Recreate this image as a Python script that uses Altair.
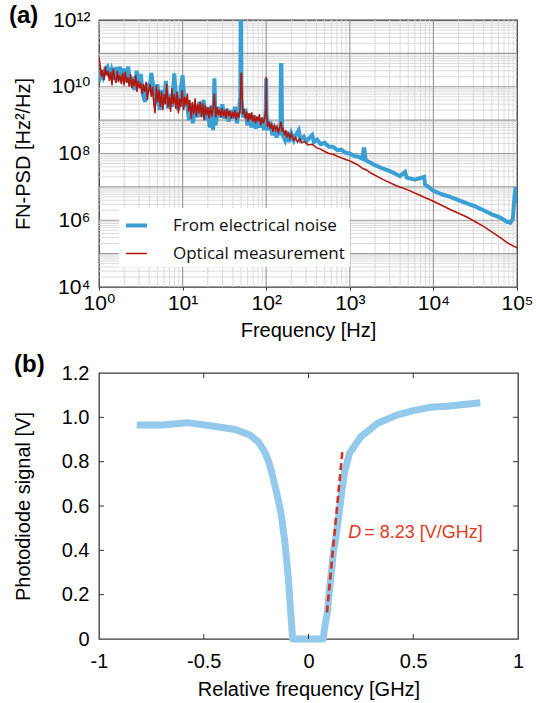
import altair as alt
import pandas as pd

# ---------------- Panel (a) data ----------------
series_names = ["From electrical noise", "Optical measurement"]

freq_elec = [1.00, 1.06, 1.12, 1.19, 1.26, 1.33, 1.41, 1.50, 1.58, 1.68,
             1.78, 1.88, 2.00, 2.11, 2.24, 2.37, 2.51, 2.66, 2.82, 2.99,
             3.16, 3.35, 3.55, 3.76, 3.98, 4.22, 4.47, 4.73, 5.01, 5.31,
             5.62, 5.96, 6.31, 6.68, 7.08, 7.50, 7.94, 8.41, 8.91, 9.44,
             10.0, 10.6, 11.2, 11.9, 12.6, 13.3, 14.1, 15.0, 15.8, 16.8,
             17.8, 18.8, 20.0, 21.1, 22.4, 23.2, 24.0, 24.8, 26.6, 28.2,
             29.9, 31.6, 33.5, 35.5, 37.6, 39.8, 42.2, 44.7, 47.3, 49.0,
             49.5, 50.1, 50.7, 53.1, 56.2, 59.6, 63.1, 66.8, 70.8, 75.0,
             79.4, 84.1, 89.1, 94.4, 98.9, 100, 101, 106, 112, 119,
             126, 133, 141, 148, 150, 152, 155, 168, 178, 188,
             200, 214, 229, 245, 257, 282, 302, 331, 355, 372,
             407, 447, 501, 562, 631, 708, 794, 891, 1000, 1122,
             1259, 1413, 1462, 1496, 1549, 1995, 2512, 3162, 3981, 4571,
             4786, 6026, 7762, 7943, 10000, 12589, 15849, 19953, 25119, 31623,
             39811, 50119, 63096, 75858, 83176, 89125, 93325, 96605, 100000]
psd_elec = [1.4e10, 2.5e10, 1.9e10, 3.5e10, 4.0e10, 2.0e10, 3.2e10, 1.6e10, 3.8e10, 2.2e10,
            4.0e10, 1.5e10, 3.5e10, 1.4e10, 4.0e10, 1.1e10, 2.0e10, 8e9, 3.0e10, 1.2e10,
            2.4e10, 6e9, 3.5e9, 1.3e10, 7e9, 2.6e10, 1e10, 3e9, 1.2e10, 2e9,
            8e9, 3e9, 1.5e10, 2.2e9, 6e9, 2.5e9, 2.5e10, 4e9, 2e9, 7e9,
            2.2e10, 2.5e9, 4e9, 1e9, 3.2e9, 8e8, 2.8e9, 1.2e9, 3.5e9, 1.3e9,
            4e9, 1e9, 2.5e9, 6e8, 2.8e9, 5e8, 1.8e10, 7e8, 2.5e9, 1.2e9,
            3e9, 1.1e9, 2.2e9, 9e8, 2e9, 1.1e9, 2.5e9, 8e8, 2e9, 5e9,
            2e12, 2e12, 4e9, 1.2e9, 2.2e9, 7e8, 1.6e9, 6e8, 1.4e9, 5.5e8,
            1.2e9, 6e8, 1.1e9, 5e8, 2e9, 1.8e10, 1.5e9, 5e8, 9e8, 3.5e8,
            7e8, 3e8, 6e8, 3.5e8, 4.5e10, 4.5e10, 4e8, 2.5e8, 4.5e8, 2.2e8,
            4e8, 2.5e8, 3.8e8, 5e8, 2.6e8, 3.2e8, 2.3e8, 3e8, 3.6e8, 2.2e8,
            2.6e8, 1.9e8, 2.1e8, 1.6e8, 1.6e8, 1.25e8, 1.3e8, 1.05e8, 1.0e8, 8.5e7,
            8e7, 7e7, 1.35e8, 1.35e8, 6.3e7, 4.5e7, 3.5e7, 2.8e7, 2.1e7, 2.8e7,
            1.9e7, 1.65e7, 2e7, 1.2e7, 7.6e6, 6e6, 5e6, 4e6, 3.2e6, 2.6e6,
            2e6, 1.5e6, 1.2e6, 9e5, 8.5e5, 1.1e6, 5e6, 1e7, 3.2e6]

freq_opt = [1.00, 1.03, 1.07, 1.10, 1.15, 1.19, 1.23, 1.28, 1.33, 1.38,
            1.43, 1.48, 1.54, 1.60, 1.66, 1.72, 1.78, 1.85, 1.92, 1.99,
            2.06, 2.14, 2.22, 2.30, 2.38, 2.47, 2.56, 2.65, 2.75, 2.85,
            2.95, 3.06, 3.17, 3.29, 3.41, 3.53, 3.66, 3.79, 3.93, 4.07,
            4.22, 4.37, 4.53, 4.69, 4.86, 5.04, 5.22, 5.41, 5.60, 5.81,
            6.02, 6.24, 6.46, 6.70, 6.94, 7.19, 7.45, 7.72, 8.00, 8.29,
            8.59, 8.90, 9.22, 9.55, 9.90, 10.3, 10.6, 11.0, 11.4, 11.8,
            12.2, 12.7, 13.1, 13.6, 14.1, 14.6, 15.1, 15.7, 16.2, 16.8,
            17.4, 18.1, 18.7, 19.4, 20.1, 20.8, 21.6, 22.4, 23.2, 24.0,
            24.9, 25.8, 26.7, 27.7, 28.7, 29.7, 30.8, 31.9, 33.0, 34.2,
            35.5, 36.7, 38.1, 39.4, 40.8, 42.3, 43.8, 45.4, 47.1, 48.8,
            50.0, 50.6, 52.4, 54.3, 56.3, 58.3, 60.4, 62.6, 64.9, 67.2,
            69.6, 72.1, 74.7, 77.4, 80.2, 83.1, 86.1, 89.2, 92.4, 95.7,
            99.2, 100, 101, 104, 108, 112, 116, 120, 125, 130,
            135, 140, 145, 150, 155, 160, 166, 172, 178, 185,
            192, 200, 212, 224, 237, 251, 266, 288, 316, 355,
            398, 447, 501, 562, 631, 708, 794, 891, 1000, 1122,
            1259, 1413, 1585, 1778, 2512, 3548, 5012, 7079, 10000, 15849,
            25119, 39811, 63096, 79433, 100000]
psd_opt = [8e10, 4.5e10, 2.0e10, 3.2e10, 1.6e10, 4.0e10, 2.2e10, 3.0e10, 1.5e10, 2.8e10,
           1.1e10, 3.5e10, 1.8e10, 1.3e10, 3.0e10, 1.4e10, 2.2e10, 1.2e10, 2.6e10, 1.1e10,
           2.8e10, 1.3e10, 1.9e10, 1.0e10, 2.4e10, 9e9, 1.7e10, 1.0e10, 2.2e10, 7e9,
           1.5e10, 9e9, 1.3e10, 6e9, 1.2e10, 7e9, 1.4e10, 4e9, 8e9, 1.2e10,
           5e9, 1.0e10, 3e9, 1.6e9, 1.1e10, 3.5e9, 8e9, 2.5e9, 7e9, 2e9,
           6e9, 3e9, 1.2e10, 2.5e9, 5e9, 1.8e9, 9e9, 3e9, 6e9, 2.2e9,
           7e9, 1.6e9, 4.5e9, 2.5e9, 8e9, 2e9, 5e9, 2.8e9, 6.3e9, 1.8e9,
           4e9, 1.1e9, 3.5e9, 1.5e9, 4.5e9, 1.3e9, 3e9, 1.6e9, 3.6e9, 1.2e9,
           3.2e9, 1e9, 2.8e9, 1.4e9, 2.4e9, 1.1e9, 2.6e9, 1.3e9, 2.2e9, 6.3e9,
           1.2e9, 2.5e9, 1.4e9, 2.1e9, 1.2e9, 2.3e9, 1.3e9, 2.0e9, 1.1e9, 2.2e9,
           1.3e9, 1.9e9, 1.1e9, 1.8e9, 1.2e9, 2.0e9, 1.0e9, 1.7e9, 1.2e9, 2.2e9,
           2.5e10, 2.5e10, 1.5e9, 2.1e9, 1.1e9, 1.8e9, 9e8, 1.6e9, 1.0e9, 1.7e9,
           9e8, 1.4e9, 8e8, 1.3e9, 9e8, 1.5e9, 7e8, 1.2e9, 8e8, 1.1e9,
           2e9, 2e10, 1.5e9, 6.3e8, 9e8, 5.5e8, 8e8, 4.5e8, 7e8, 5e8,
           6.5e8, 4e8, 6e8, 9e8, 4.5e8, 5.5e8, 3.5e8, 5e8, 3e8, 4.2e8,
           2.8e8, 3.8e8, 2.5e8, 3e8, 2.2e8, 2.8e8, 2.1e8, 2.3e8, 1.8e8, 1.9e8,
           1.5e8, 1.35e8, 1.15e8, 1.0e8, 9.5e7, 8.3e7, 7.4e7, 6.6e7, 6e7, 5.2e7,
           4.5e7, 3.6e7, 3.2e7, 2.6e7, 1.65e7, 1.1e7, 8e6, 5.4e6, 3.7e6, 2.1e6,
           1.25e6, 6.6e5, 3e5, 2e5, 1.5e5]

x_label_vals_a = [1, 10, 100, 1000, 10000, 100000]
y_label_vals_a = [1e4, 1e6, 1e8, 1e10, 1e12]

# grid positions (inner decades and minor 2..9 lines)
x_grid_major = [10, 100, 1000, 10000]
x_grid_minor = [k * 10 ** n for n in range(0, 5) for k in range(2, 10)]
y_grid_major = [10.0 ** n for n in range(5, 12)]
y_grid_minor = [k * 10.0 ** n for n in range(4, 12) for k in range(2, 10)]

# ---------------- Panel (b) data ----------------
rel_freq = [-0.82, -0.70, -0.58, -0.45, -0.35, -0.28, -0.24, -0.21, -0.19, -0.175,
            -0.16, -0.145, -0.13, -0.12, -0.112, -0.105, -0.095, -0.087, -0.08, -0.076,
            0.0, 0.07, 0.08, 0.09, 0.10, 0.11, 0.12, 0.131, 0.145, 0.158,
            0.171, 0.195, 0.25, 0.33, 0.42, 0.50, 0.58, 0.66, 0.74, 0.82]
pd_signal = [0.965, 0.965, 0.976, 0.96, 0.945, 0.92, 0.89, 0.845, 0.80, 0.75,
             0.69, 0.63, 0.56, 0.49, 0.43, 0.36, 0.26, 0.15, 0.06, 0.0,
             0.0, 0.0, 0.07, 0.12, 0.22, 0.31, 0.40, 0.46, 0.56, 0.66,
             0.747, 0.837, 0.912, 0.973, 1.01, 1.03, 1.045, 1.05, 1.058, 1.066]
slope_x = [0.088, 0.163]
slope_y = [0.12, 0.86]
annot_x = [0.19]
annot_y = [0.478]
x_ticks_b = [-1, -0.5, 0, 0.5, 1]
y_ticks_b = [0, 0.2, 0.4, 0.6, 0.8, 1.0, 1.2]
x_inner_ticks_b = [-0.5, 0, 0.5]
y_inner_ticks_b = [0.2, 0.4, 0.6, 0.8, 1.0]

# ---------------- styling ----------------
FONT = "Liberation Sans, Arial, DejaVu Sans"
LEG_FONT = "Open Sans"
BLUE = "#3A9FD3"
RED = "#B3150C"
LIGHT_BLUE = "#93C9EB"
DASH_RED = "#D2331F"
TEXT_RED = "#E0391F"
W_A, H_A = 418, 267
W_B, H_B = 419, 266

sup = "['⁰','¹','²','³','⁴','⁵','⁶','⁷','⁸','⁹','¹⁰','¹¹','¹²'][round(log(datum.value)/LN10)]"

common_axis = dict(grid=False, domain=False, labelFont=FONT, labelColor="black",
                   labelOverlap=False, titleFont=FONT, titleFontSize=20,
                   titleFontWeight="normal", titleColor="black", titleBaseline="middle")

xa = alt.Scale(type="log", domain=[1, 1e5])
ya = alt.Scale(type="log", domain=[1e4, 1e12])
x_axis_a = alt.Axis(title="Frequency [Hz]", values=x_label_vals_a, labelExpr="'10' + " + sup,
                    ticks=True, tickSize=3, tickColor="#333", labelFontSize=21, labelPadding=2,
                    labelFlush=False, titleY=43, **common_axis)
y_axis_a = alt.Axis(title="FN-PSD [Hz²/Hz]", values=y_label_vals_a, labelExpr="'10' + " + sup,
                    ticks=False, labelFontSize=21, labelPadding=9, titleX=-76, **common_axis)

df_a = pd.DataFrame({
    "f": freq_elec + freq_opt,
    "p": psd_elec + psd_opt,
    "series": [series_names[0]] * len(freq_elec) + [series_names[1]] * len(freq_opt),
})

grid_xmin = alt.Chart(pd.DataFrame({"v": x_grid_minor})).mark_rule(color="#dadada", strokeWidth=1).encode(
    x=alt.X("v:Q", scale=xa, axis=x_axis_a))
grid_ymin = alt.Chart(pd.DataFrame({"v": y_grid_minor})).mark_rule(color="#dadada", strokeWidth=1).encode(
    y=alt.Y("v:Q", scale=ya, axis=y_axis_a))
grid_xmaj = alt.Chart(pd.DataFrame({"v": x_grid_major})).mark_rule(color="#9c9c9c", strokeWidth=1.2).encode(
    x=alt.X("v:Q", scale=xa, axis=x_axis_a))
grid_ymaj = alt.Chart(pd.DataFrame({"v": y_grid_major})).mark_rule(color="#9c9c9c", strokeWidth=1.2).encode(
    y=alt.Y("v:Q", scale=ya, axis=y_axis_a))

leg = dict(title=None, orient="none", legendX=20, legendY=188, fillColor="white",
           padding=5, labelFont=LEG_FONT, labelFontSize=17, labelColor="#111", labelLimit=300,
           symbolType="stroke", symbolSize=441, labelOffset=24, rowPadding=8)

lines_a = alt.Chart(df_a).mark_line(clip=True).encode(
    x=alt.X("f:Q", scale=xa, axis=x_axis_a),
    y=alt.Y("p:Q", scale=ya, axis=y_axis_a),
    color=alt.Color("series:N", scale=alt.Scale(domain=series_names, range=[BLUE, RED]),
                    legend=alt.Legend(**leg)),
    strokeWidth=alt.StrokeWidth("series:N", scale=alt.Scale(domain=series_names, range=[4, 1.5]),
                                legend=alt.Legend(**leg)),
)

label_a = alt.Chart(pd.DataFrame({"t": ["(a)"]})).mark_text(
    align="left", baseline="middle", font=FONT, fontSize=24, fontWeight="bold", color="black"
).encode(text="t:N", x=alt.value(-90), y=alt.value(-4))

panel_a = alt.layer(grid_xmin, grid_ymin, grid_xmaj, grid_ymaj, lines_a, label_a).properties(
    width=W_A, height=H_A)

# ---------------- Panel (b) ----------------
xb = alt.Scale(domain=[-1, 1], nice=False)
yb = alt.Scale(domain=[0, 1.2], nice=False)
x_axis_b = alt.Axis(title="Relative frequency [GHz]", values=x_ticks_b, labelExpr="'' + datum.value",
                    ticks=False, labelFontSize=20, labelPadding=12, labelFlush=False, titleY=50,
                    **common_axis)
y_axis_b = alt.Axis(title="Photodiode signal [V]", values=y_ticks_b,
                    labelExpr="datum.value == 0 ? '0' : format(datum.value, '.1f')",
                    ticks=False, labelFontSize=20, labelPadding=10, titleX=-76, **common_axis)

curve = alt.Chart(pd.DataFrame({"x": rel_freq, "y": pd_signal})).mark_line(
    color=LIGHT_BLUE, strokeWidth=7, strokeCap="butt", strokeJoin="round").encode(
    x=alt.X("x:Q", scale=xb, axis=x_axis_b),
    y=alt.Y("y:Q", scale=yb, axis=y_axis_b),
)

slope = alt.Chart(pd.DataFrame({"x": slope_x, "y": slope_y})).mark_line(
    color=DASH_RED, strokeWidth=2.6, strokeDash=[7, 4]).encode(
    x=alt.X("x:Q", scale=xb, axis=x_axis_b), y=alt.Y("y:Q", scale=yb, axis=y_axis_b))

annot_df = pd.DataFrame({"x": annot_x, "y": annot_y, "d": ["D"], "rest": ["= 8.23 [V/GHz]"]})
annot_d = alt.Chart(annot_df).mark_text(
    align="left", baseline="middle", font=FONT, fontSize=18, fontStyle="italic", color=TEXT_RED).encode(
    x=alt.X("x:Q", scale=xb, axis=x_axis_b), y=alt.Y("y:Q", scale=yb, axis=y_axis_b), text="d:N")
annot_rest = alt.Chart(annot_df).mark_text(
    align="left", baseline="middle", font=FONT, fontSize=18, color=TEXT_RED, dx=16).encode(
    x=alt.X("x:Q", scale=xb, axis=x_axis_b), y=alt.Y("y:Q", scale=yb, axis=y_axis_b), text="rest:N")

TICK = "#333"
tick_bottom = alt.Chart(pd.DataFrame({"v": x_inner_ticks_b})).mark_rule(color=TICK, strokeWidth=1).encode(
    x=alt.X("v:Q", scale=xb, axis=x_axis_b), y=alt.value(H_B), y2=alt.value(H_B - 5))
tick_top = alt.Chart(pd.DataFrame({"v": x_inner_ticks_b})).mark_rule(color=TICK, strokeWidth=1).encode(
    x=alt.X("v:Q", scale=xb, axis=x_axis_b), y=alt.value(0), y2=alt.value(5))
tick_left = alt.Chart(pd.DataFrame({"v": y_inner_ticks_b})).mark_rule(color=TICK, strokeWidth=1).encode(
    y=alt.Y("v:Q", scale=yb, axis=y_axis_b), x=alt.value(0), x2=alt.value(5))
tick_right = alt.Chart(pd.DataFrame({"v": y_inner_ticks_b})).mark_rule(color=TICK, strokeWidth=1).encode(
    y=alt.Y("v:Q", scale=yb, axis=y_axis_b), x=alt.value(W_B), x2=alt.value(W_B - 5))

label_b = alt.Chart(pd.DataFrame({"t": ["(b)"]})).mark_text(
    align="left", baseline="middle", font=FONT, fontSize=24, fontWeight="bold", color="black"
).encode(text="t:N", x=alt.value(-85), y=alt.value(-8))

panel_b = alt.layer(curve, slope, annot_d, annot_rest, tick_bottom, tick_top, tick_left, tick_right,
                    label_b).properties(width=W_B, height=H_B)

chart = alt.vconcat(panel_a, panel_b, spacing=11).properties(
    padding={"left": 8, "top": 3, "right": 0, "bottom": 0}, background="white"
).configure_view(stroke="#3a3a3a", strokeWidth=1.3)

chart.save("out.html", embed_options={"renderer": "svg", "actions": False})
